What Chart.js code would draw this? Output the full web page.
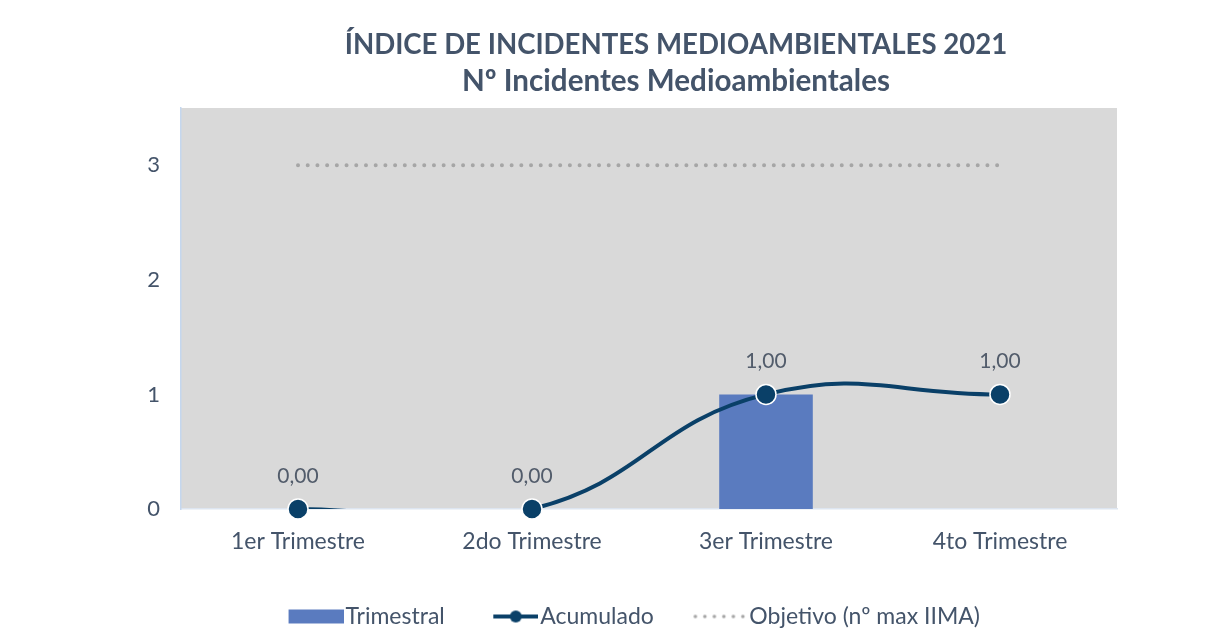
<!DOCTYPE html>
<html>
<head>
<meta charset="utf-8">
<script src="https://cdn.jsdelivr.net/npm/chart.js@4.4.1/dist/chart.umd.min.js"></script>
<style>
    html, body { margin: 0; background: #fff; }
    #wrap { width: 1227px; height: 638px; }
</style>
</head>
<body>
<div id="wrap"><canvas id="chart"></canvas></div>
<script>
const categories = ['1er Trimestre', '2do Trimestre', '3er Trimestre', '4to Trimestre'];
const trimestral = [0, 0, 1, 0];
const acumulado = [0, 0, 1, 1];
const objetivo = [3, 3, 3, 3];
const yTicks = [0, 1, 2, 3];
const titleLines = ['ÍNDICE DE INCIDENTES MEDIOAMBIENTALES 2021', 'Nº Incidentes Medioambientales'];

const FONT = 'Lato';
const TEXT = '#44546a';
const NAVY = '#0a4068';
const BAR = '#5a7bbf';
const DOT = '#a6a6a6';

// legend box is 76 wide; icon images are drawn wider than the box so the
// icon sits right next to its text like in Excel
const LEGEND_BOX = 76;
const ICON_W = LEGEND_BOX + 19;

function legendIcon(draw) {
    const c = document.createElement('canvas');
    c.width = ICON_W;
    c.height = 16;
    draw(c.getContext('2d'));
    return c;
}

const icons = {
    bar: legendIcon((ctx) => {
        ctx.fillStyle = BAR;
        ctx.fillRect(ICON_W - 55, 1, 55, 14);
    }),
    line: legendIcon((ctx) => {
        ctx.strokeStyle = NAVY;
        ctx.lineWidth = 4;
        ctx.beginPath();
        ctx.moveTo(ICON_W - 45, 8);
        ctx.lineTo(ICON_W, 8);
        ctx.stroke();
        ctx.fillStyle = NAVY;
        ctx.beginPath();
        ctx.arc(ICON_W - 22.5, 8, 6, 0, Math.PI * 2);
        ctx.fill();
    }),
    dots: legendIcon((ctx) => {
        ctx.fillStyle = DOT;
        for (let x = ICON_W - 52; x < ICON_W; x += 9.5) {
            ctx.beginPath();
            ctx.arc(x, 8, 1.8, 0, Math.PI * 2);
            ctx.fill();
        }
    }),
};

const plotBackground = {
    id: 'plotBackground',
    beforeDraw(chart) {
        const { ctx, chartArea: a } = chart;
        ctx.save();
        ctx.fillStyle = '#d9d9d9';
        ctx.fillRect(a.left, a.top, a.right - a.left, a.bottom - a.top);
        ctx.restore();
    },
};

const titleText = {
    id: 'titleText',
    afterDraw(chart) {
        const { ctx } = chart;
        ctx.save();
        ctx.fillStyle = TEXT;
        ctx.textAlign = 'center';
        ctx.textBaseline = 'middle';
        ctx.font = `bold 27.6px ${FONT}`;
        ctx.fillText(titleLines[0], 676, 45);
        ctx.font = `bold 29.6px ${FONT}`;
        ctx.fillText(titleLines[1], 676, 81);
        ctx.restore();
    },
};

const pointLabels = {
    id: 'pointLabels',
    afterDatasetsDraw(chart) {
        const { ctx } = chart;
        const meta = chart.getDatasetMeta(3);
        ctx.save();
        ctx.fillStyle = '#525c6b';
        ctx.font = `21px ${FONT}`;
        ctx.textAlign = 'center';
        ctx.textBaseline = 'middle';
        meta.data.forEach((el, i) => {
            ctx.fillText(acumulado[i].toFixed(2).replace('.', ','), el.x, el.y - 33);
        });
        ctx.restore();
    },
};

new Chart(document.getElementById('chart'), {
    data: {
        labels: categories,
        datasets: [
            {
                type: 'bar',
                label: 'Trimestral',
                data: trimestral,
                backgroundColor: BAR,
                barPercentage: 0.4,
                categoryPercentage: 1,
                order: 4,
            },
            {
                type: 'line',
                label: 'Objetivo (nº max IIMA)',
                data: objetivo,
                borderColor: DOT,
                borderWidth: 4,
                borderCapStyle: 'round',
                borderDash: [0.01, 9.7],
                pointRadius: 0,
                tension: 0,
                order: 3,
            },
            {
                type: 'line',
                label: 'Acumulado',
                data: acumulado,
                borderColor: NAVY,
                borderWidth: 4,
                pointRadius: 0,
                tension: 0.45,
                order: 2,
            },
            {
                type: 'line',
                label: 'Acumulado puntos',
                data: acumulado,
                showLine: false,
                pointRadius: 10,
                pointBackgroundColor: NAVY,
                pointBorderColor: '#ffffff',
                pointBorderWidth: 1.5,
                clip: false,
                order: 1,
            },
        ],
    },
    options: {
        responsive: true,
        maintainAspectRatio: false,
        animation: false,
        layout: {
            padding: { top: 108, left: 121, right: 110, bottom: 0 },
        },
        elements: {
            line: { capBezierPoints: false },
        },
        plugins: {
            title: { display: false },
            tooltip: { enabled: false },
            legend: {
                display: true,
                position: 'bottom',
                labels: {
                    usePointStyle: true,
                    pointStyleWidth: LEGEND_BOX,
                    boxHeight: 16,
                    padding: 8,
                    color: TEXT,
                    font: { family: FONT, size: 23 },
                    generateLabels() {
                        return [
                            { text: 'Trimestral', pointStyle: icons.bar, fontColor: TEXT, lineWidth: 0, datasetIndex: 0 },
                            { text: 'Acumulado', pointStyle: icons.line, fontColor: TEXT, lineWidth: 0, datasetIndex: 2 },
                            { text: 'Objetivo (nº max IIMA)', pointStyle: icons.dots, fontColor: TEXT, lineWidth: 0, datasetIndex: 1 },
                        ];
                    },
                },
            },
        },
        scales: {
            x: {
                afterFit(scale) {
                    scale.height = 88;
                },
                grid: { display: false, drawTicks: false },
                border: { color: '#dde5f0', width: 1.5 },
                ticks: {
                    color: TEXT,
                    padding: 19,
                    font: { family: FONT, size: 23 },
                },
            },
            y: {
                min: 0,
                max: 3.5,
                afterBuildTicks(scale) {
                    scale.ticks = yTicks.map((value) => ({ value }));
                },
                afterFit(scale) {
                    scale.width = 60;
                },
                grid: { display: false, drawTicks: false },
                border: { color: '#c5d7ee', width: 1.5 },
                ticks: {
                    color: TEXT,
                    padding: 21,
                    font: { family: FONT, size: 22 },
                },
            },
        },
    },
    plugins: [plotBackground, titleText, pointLabels],
});
</script>
</body>
</html>
